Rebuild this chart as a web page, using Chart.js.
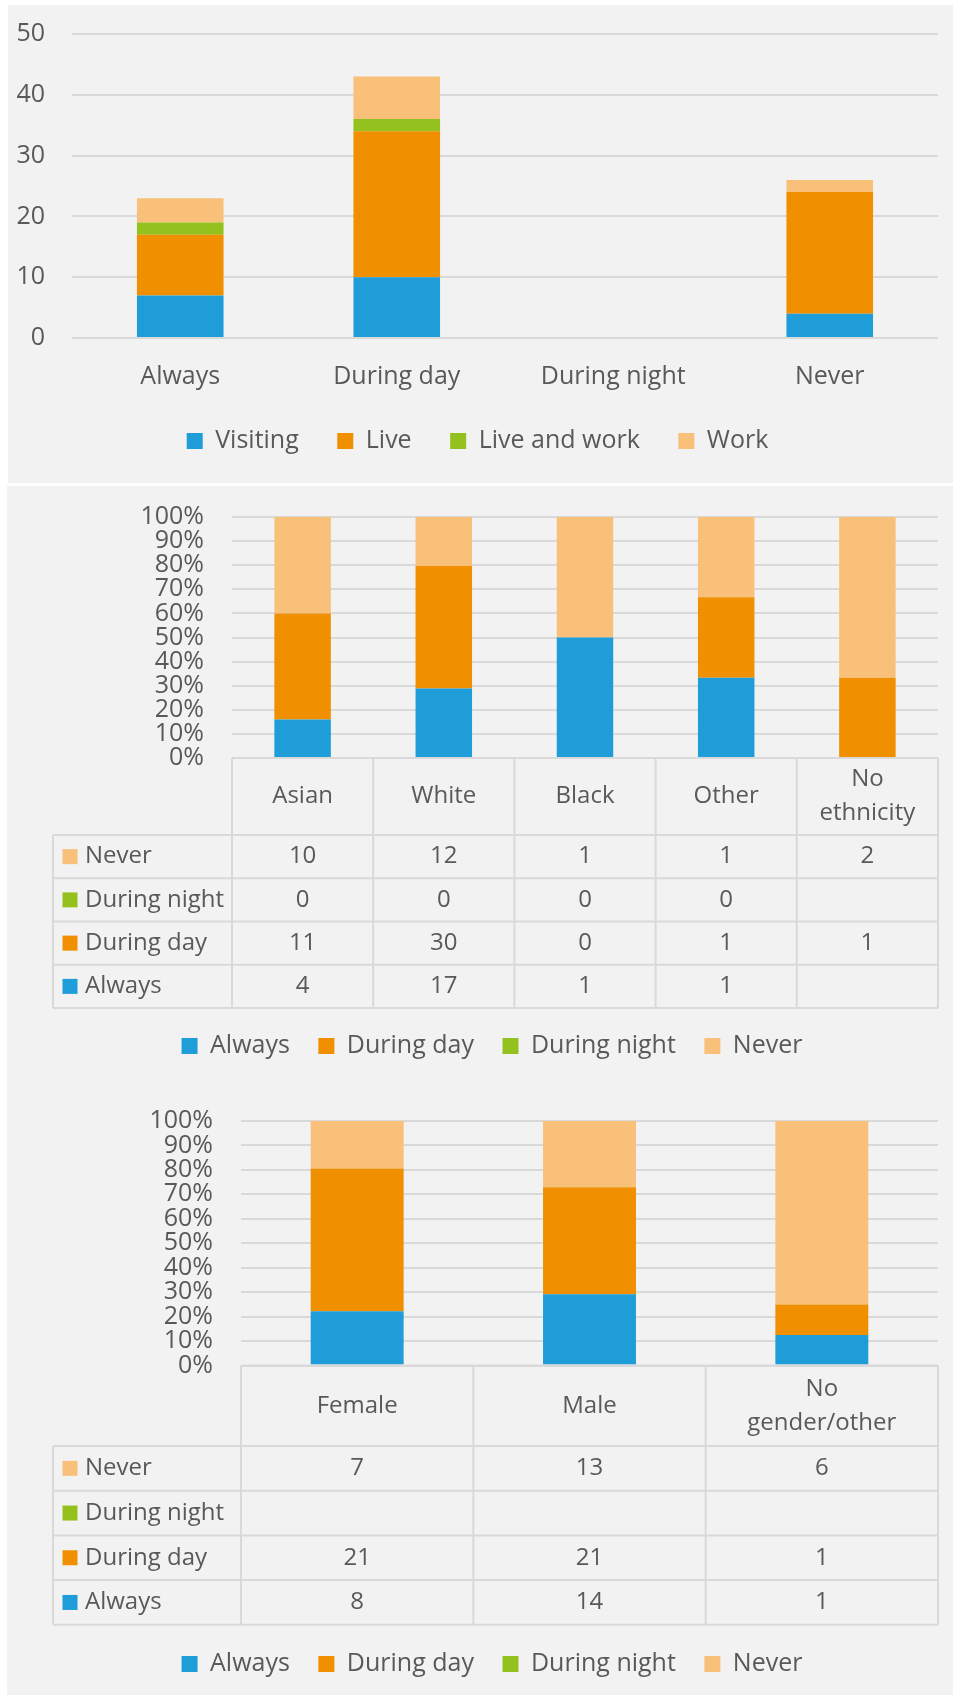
<!DOCTYPE html>
<html>
<head>
<meta charset="utf-8">
<script src="https://cdn.jsdelivr.net/npm/chart.js@4.4.1/dist/chart.umd.min.js"></script>
<style>
  body { margin: 0; background: #fff; width: 953px; height: 1695px; position: relative; overflow: hidden; }
  .panel { position: absolute; background: #f2f2f2; }
  .panel canvas { position: absolute; left: 0; }
</style>
</head>
<body>
<div class="panel" style="left:8px; top:5px; width:945px; height:478px;">
  <canvas id="useChart" width="945" height="478" style="top:0"></canvas>
</div>
<div class="panel" style="left:7px; top:486px; width:946px; height:1209px;">
  <canvas id="ethnicityChart" width="946" height="599" style="top:0"></canvas>
  <canvas id="genderChart" width="946" height="610" style="top:599px"></canvas>
</div>

<script>
// --- top chart: counts by use
const useCategories = ["Always", "During day", "During night", "Never"];
const visiting = [7, 10, 0, 4];
const live = [10, 24, 0, 20];
const liveAndWork = [2, 2, 0, 0];
const work = [4, 7, 0, 2];
const countTicks = [0, 10, 20, 30, 40, 50];

// --- ethnicity (counts from the data table, null = empty cell)
const ethnicities = [["Asian"], ["White"], ["Black"], ["Other"], ["No", "ethnicity"]];
const ethAlways = [4, 17, 1, 1, null];
const ethDay = [11, 30, 0, 1, 1];
const ethNight = [0, 0, 0, 0, null];
const ethNever = [10, 12, 1, 1, 2];

// --- gender
const genders = [["Female"], ["Male"], ["No", "gender/other"]];
const genAlways = [8, 14, 1];
const genDay = [21, 21, 1];
const genNight = [null, null, null];
const genNever = [7, 13, 6];

const percentTicks = [0, 10, 20, 30, 40, 50, 60, 70, 80, 90, 100];

const BLUE = "#1f9dd9";
const ORANGE = "#f08f00";
const GREEN = "#95c11f";
const PEACH = "#f9c07a";
const GRID = "#d9d9d9";
const TEXT = "#595959";

Chart.defaults.font.family = "'Open Sans', sans-serif";
Chart.defaults.font.size = 25;
Chart.defaults.color = TEXT;
Chart.defaults.animation = false;

// share of each series in the column total, for the 100% stacked charts
function toPercent(series, all) {
  return series.map((v, i) => {
    const total = all.reduce((s, arr) => s + (arr[i] || 0), 0);
    return total ? (v || 0) / total * 100 : 0;
  });
}

// draws the data table under the x axis, columns taken from the x scale
function makeTable(cfg) {
  return {
    id: "dataTable",
    afterDraw(chart) {
      const { ctx, chartArea, scales: { x } } = chart;
      const labels = chart.data.labels;
      const n = labels.length;
      const colW = (chartArea.right - chartArea.left) / n;
      const top = chartArea.bottom;
      const rowsTop = top + cfg.headerHeight;
      const bottom = rowsTop + cfg.rows.length * cfg.rowHeight;
      const right = chartArea.right;

      ctx.save();
      ctx.strokeStyle = GRID;
      ctx.lineWidth = 2;
      ctx.beginPath();
      ctx.moveTo(chartArea.left, top);
      ctx.lineTo(right, top);
      for (let i = 0; i <= n; i++) {
        const px = i === n ? right : x.getPixelForValue(i) - colW / 2;
        ctx.moveTo(px, top);
        ctx.lineTo(px, bottom);
      }
      ctx.moveTo(cfg.left, rowsTop);
      ctx.lineTo(cfg.left, bottom);
      for (let r = 0; r <= cfg.rows.length; r++) {
        const y = rowsTop + r * cfg.rowHeight;
        ctx.moveTo(cfg.left, y);
        ctx.lineTo(right, y);
      }
      ctx.stroke();

      ctx.fillStyle = TEXT;
      ctx.font = "24px 'Open Sans', sans-serif";
      ctx.textBaseline = "middle";
      ctx.textAlign = "center";
      // header
      labels.forEach((lab, i) => {
        const lines = Array.isArray(lab) ? lab : [lab];
        const cy = top + cfg.headerHeight / 2;
        lines.forEach((ln, k) => {
          ctx.fillText(ln, x.getPixelForValue(i), cy + (k - (lines.length - 1) / 2) * 34);
        });
      });
      // rows
      cfg.rows.forEach((row, r) => {
        const cy = rowsTop + (r + 0.5) * cfg.rowHeight;
        ctx.fillStyle = row.color;
        ctx.fillRect(cfg.left + 9.5, cy - 7.5, 15, 15);
        ctx.fillStyle = TEXT;
        ctx.textAlign = "left";
        ctx.fillText(row.label, cfg.left + 32, cy);
        ctx.textAlign = "center";
        row.values.forEach((v, i) => {
          if (v !== null && v !== undefined) ctx.fillText(String(v), x.getPixelForValue(i), cy);
        });
      });
      ctx.restore();
    },
  };
}

new Chart(document.getElementById("useChart"), {
  type: "bar",
  data: {
    labels: useCategories,
    datasets: [
      { label: "Visiting", data: visiting, backgroundColor: BLUE },
      { label: "Live", data: live, backgroundColor: ORANGE },
      { label: "Live and work", data: liveAndWork, backgroundColor: GREEN },
      { label: "Work", data: work, backgroundColor: PEACH },
    ],
  },
  options: {
    responsive: false,
    layout: { padding: { left: 9, right: 15, top: 29, bottom: 19.5 } },
    datasets: { bar: { barPercentage: 0.4, categoryPercentage: 1, borderWidth: 0 } },
    scales: {
      x: {
        stacked: true,
        grid: { display: false, drawTicks: false },
        border: { display: false },
        ticks: { padding: 24 },
        afterFit: (s) => { s.height = 52; },
      },
      y: {
        stacked: true,
        min: countTicks[0],
        max: countTicks[countTicks.length - 1],
        ticks: { stepSize: countTicks[1] - countTicks[0], padding: 0 },
        // invisible tick marks push the labels away from the plot
        grid: { color: GRID, lineWidth: 2, drawTicks: true, tickLength: 27, tickColor: "rgba(0,0,0,0)" },
        border: { display: false },
        afterFit: (s) => { s.width = 55; },
      },
    },
    plugins: {
      legend: { position: "bottom", labels: { boxWidth: 16, boxHeight: 16, padding: 38.5 } },
      tooltip: { enabled: false },
    },
  },
});

function percentChart(id, labels, always, day, night, never, geo) {
  const all = [always, day, night, never];
  const rows = [
    { label: "Never", color: PEACH, values: never },
    { label: "During night", color: GREEN, values: night },
    { label: "During day", color: ORANGE, values: day },
    { label: "Always", color: BLUE, values: always },
  ];
  new Chart(document.getElementById(id), {
    type: "bar",
    data: {
      labels: labels,
      datasets: [
        { label: "Always", data: toPercent(always, all), backgroundColor: BLUE },
        { label: "During day", data: toPercent(day, all), backgroundColor: ORANGE },
        { label: "During night", data: toPercent(night, all), backgroundColor: GREEN },
        { label: "Never", data: toPercent(never, all), backgroundColor: PEACH },
      ],
    },
    options: {
      responsive: false,
      layout: { padding: { left: 39, right: 15, top: geo.top, bottom: geo.bottom } },
      datasets: { bar: { barPercentage: 0.4, categoryPercentage: 1, borderWidth: 0 } },
      scales: {
        x: {
          stacked: true,
          grid: { display: false, drawTicks: false },
          border: { display: false },
          ticks: { display: false },
          afterFit: (s) => { s.height = geo.axisHeight; },
        },
        y: {
          stacked: true,
          min: percentTicks[0],
          max: percentTicks[percentTicks.length - 1],
          ticks: {
            stepSize: percentTicks[1] - percentTicks[0],
            autoSkip: false,
            padding: 0,
            callback: (v) => v + "%",
          },
          grid: { color: GRID, lineWidth: 2, drawTicks: true, tickLength: 28, tickColor: "rgba(0,0,0,0)" },
          border: { display: false },
          afterFit: (s) => { s.width = geo.axisWidth; },
        },
      },
      plugins: {
        legend: { position: "bottom", labels: { boxWidth: 16, boxHeight: 16, padding: 28.5 } },
        tooltip: { enabled: false },
      },
    },
    plugins: [makeTable({ left: 46, headerHeight: geo.header, rowHeight: geo.row, rows: rows })],
  });
}

percentChart("ethnicityChart", ethnicities, ethAlways, ethDay, ethNight, ethNever,
  { top: 31, bottom: 16.5, axisHeight: 247, axisWidth: 186, header: 77, row: 43.25 });
percentChart("genderChart", genders, genAlways, genDay, genNight, genNever,
  { top: 36, bottom: 8.5, axisHeight: 257.5, axisWidth: 195, header: 80.5, row: 44.7 });
</script>
</body>
</html>
